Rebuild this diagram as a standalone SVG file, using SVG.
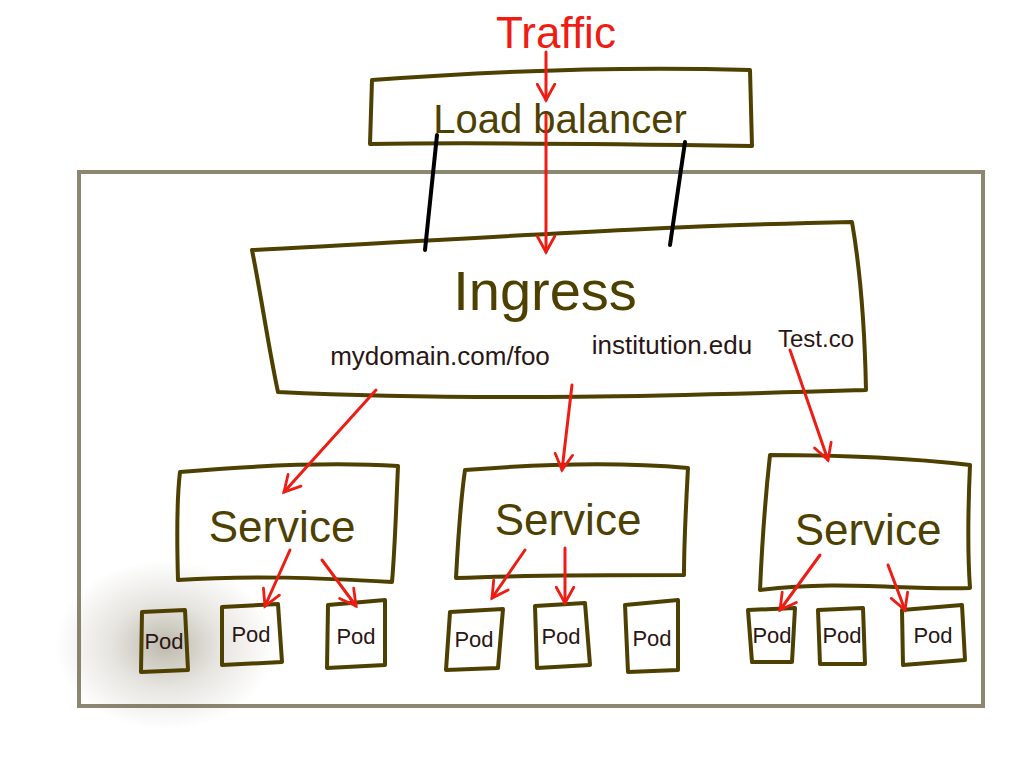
<svg xmlns="http://www.w3.org/2000/svg" width="1024" height="768" viewBox="0 0 1024 768">
<style>
.box{fill:none;stroke:#4d4000;stroke-width:4;stroke-linejoin:round;stroke-linecap:round}
.frame{fill:#fff;stroke:#8d8670;stroke-width:4}
.red{fill:none;stroke:#ee1c12;stroke-width:3;stroke-linecap:round}
.blk{fill:none;stroke:#000;stroke-width:4;stroke-linecap:round}
.t{font-family:"Liberation Sans",Arial,sans-serif;text-anchor:middle}
.olive{fill:#4d4000}
.dark{fill:#2a1614}
.pod{font-size:22px}
.svc{font-size:44px}
</style>
<defs>
<marker id="ah" viewBox="0 0 12 12" refX="10" refY="6" markerWidth="7" markerHeight="7" orient="auto" markerUnits="strokeWidth">
<path d="M1,1 L10,6 L1,11" fill="none" stroke="#ee1c12" stroke-width="1.6" stroke-linecap="round"/>
</marker>
<radialGradient id="sh" cx="0.5" cy="0.5" r="0.5">
<stop offset="0" stop-color="#5a5030" stop-opacity="0.4"/>
<stop offset="0.5" stop-color="#5a5030" stop-opacity="0.15"/>
<stop offset="1" stop-color="#5a5030" stop-opacity="0"/>
</radialGradient>
</defs>
<rect width="1024" height="768" fill="#fff"/>
<g id="container">
<rect class="frame" x="79" y="172" width="904" height="534"/>
<ellipse cx="165" cy="645" rx="110" ry="85" fill="url(#sh)"/>
</g>
<g id="traffic"><text class="t" x="556" y="48" font-size="44" fill="#ee1c12">Traffic</text></g>
<g id="load-balancer">
<path class="box" d="M372,80 C480,72 620,66 750,70 L752,146 C620,144 480,142 370,144 Z"/>
<text class="t olive" x="560" y="133" font-size="40">Load balancer</text>
</g>
<g id="ingress">
<path class="box" d="M252,250 C420,242 640,226 852,222 C862,280 865,340 866,390 C700,395 480,402 278,392 C268,345 262,300 252,250 Z"/>
<text class="t olive" x="545" y="310" font-size="56">Ingress</text>
<text class="t dark" x="440" y="365" font-size="26">mydomain.com/foo</text>
<text class="t dark" x="672" y="354" font-size="26">institution.edu</text>
<text class="t dark" x="816" y="347" font-size="24">Test.co</text>
</g>
<g id="service-1">
<path class="box" d="M180,472 C250,466 330,462 398,466 C396,510 395,548 392,582 C320,578 250,575 178,580 C177,545 176,505 180,472 Z"/>
<text class="t olive svc" x="282" y="542">Service</text>
</g>
<g id="service-2">
<path class="box" d="M465,470 C540,464 620,462 688,468 C686,505 684,540 684,575 C610,575 530,575 456,578 C458,540 460,505 465,470 Z"/>
<text class="t olive svc" x="568" y="535">Service</text>
</g>
<g id="service-3">
<path class="box" d="M770,455 C840,455 910,458 970,465 C968,510 968,560 970,588 C900,590 840,580 760,590 C762,545 765,500 770,455 Z"/>
<text class="t olive svc" x="868" y="545">Service</text>
</g>
<g id="pod-1"><path class="box" d="M142,612 L185,610 L188,670 L141,672 Z"/><text class="t dark pod" x="164" y="649">Pod</text></g>
<g id="pod-2"><path class="box" d="M222,607 L278,604 L282,662 L222,665 Z"/><text class="t dark pod" x="251" y="642">Pod</text></g>
<g id="pod-3"><path class="box" d="M328,605 L385,600 L385,665 L327,668 Z"/><text class="t dark pod" x="356" y="644">Pod</text></g>
<g id="pod-4"><path class="box" d="M450,612 L503,609 L498,668 L446,670 Z"/><text class="t dark pod" x="474" y="647">Pod</text></g>
<g id="pod-5"><path class="box" d="M535,606 L585,603 L590,665 L537,668 Z"/><text class="t dark pod" x="561" y="644">Pod</text></g>
<g id="pod-6"><path class="box" d="M625,605 L678,600 L678,670 L628,672 Z"/><text class="t dark pod" x="652" y="646">Pod</text></g>
<g id="pod-7"><path class="box" d="M748,610 L795,608 L792,662 L752,662 Z"/><text class="t dark pod" x="772" y="643">Pod</text></g>
<g id="pod-8"><path class="box" d="M818,610 L863,608 L865,664 L820,664 Z"/><text class="t dark pod" x="842" y="643">Pod</text></g>
<g id="pod-9"><path class="box" d="M902,610 L962,605 L965,660 L903,665 Z"/><text class="t dark pod" x="933" y="643">Pod</text></g>
<g id="connectors">
<path class="blk" d="M437,135 L425,250"/>
<path class="blk" d="M685,142 L670,245"/>
<path class="red" d="M546,52 L546,100" marker-end="url(#ah)"/>
<path class="red" d="M546,115 L546,252" marker-end="url(#ah)"/>
<path class="red" d="M376,390 L284,492" marker-end="url(#ah)"/>
<path class="red" d="M572,385 L562,470" marker-end="url(#ah)"/>
<path class="red" d="M790,350 L828,460" marker-end="url(#ah)"/>
<path class="red" d="M290,550 L265,606" marker-end="url(#ah)"/>
<path class="red" d="M322,560 L356,606" marker-end="url(#ah)"/>
<path class="red" d="M525,550 L492,598" marker-end="url(#ah)"/>
<path class="red" d="M565,548 L565,603" marker-end="url(#ah)"/>
<path class="red" d="M820,555 L780,610" marker-end="url(#ah)"/>
<path class="red" d="M888,565 L905,610" marker-end="url(#ah)"/>
</g>
</svg>
